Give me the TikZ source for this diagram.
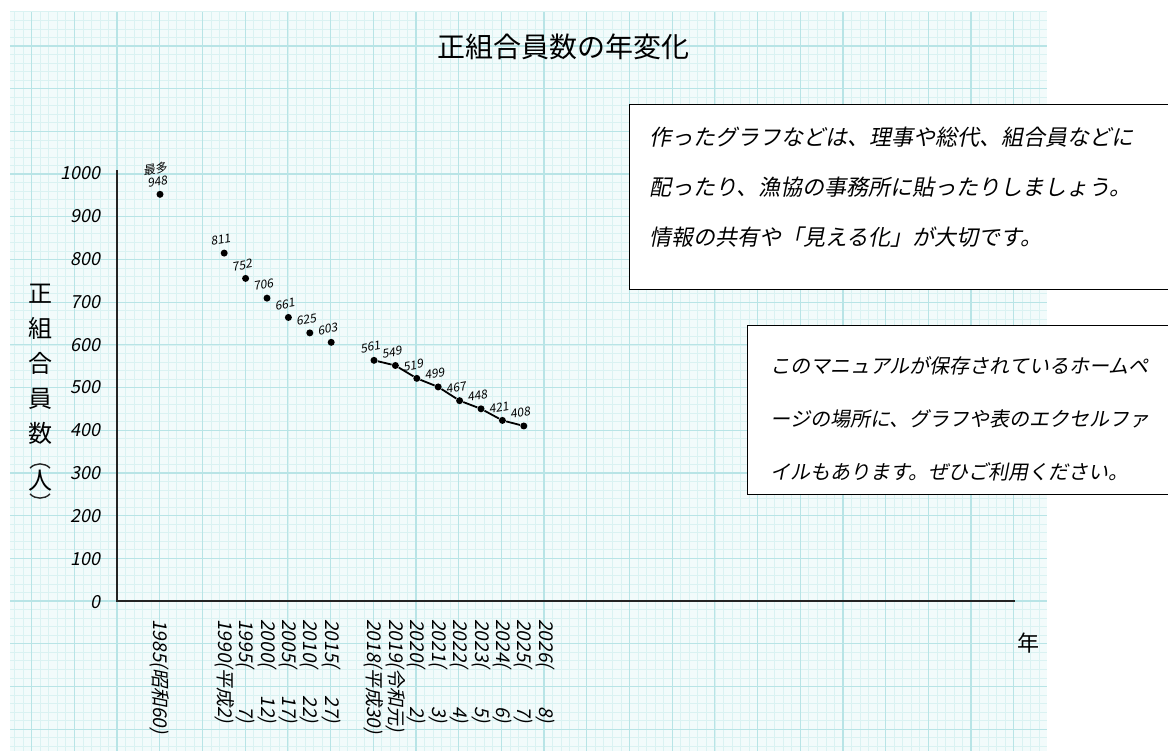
\documentclass[tikz,border=0pt]{standalone}
\usepackage{fontspec}
\newfontfamily\jpfont{Noto Sans CJK JP}
\newfontfamily\jpslant[FakeSlant=0.2]{Noto Sans CJK JP}
\usetikzlibrary{
    positioning
}
\definecolor{paperbg}{RGB}{242,251,251}
\definecolor{gridminor}{RGB}{218,242,242}
\definecolor{gridmajor}{RGB}{184,228,230}
\definecolor{ink}{RGB}{35,35,35}
\newcommand\yrlbl[2]{\setbox0\hbox{0000(平成0)}\hbox to \wd0{#1(\hfill#2)}}
\tikzset{
    minorgrid/.style = {
        draw=gridminor,
        line width=0.3pt
    },
    majorgrid/.style = {
        draw=gridmajor,
        line width=0.6pt
    },
    axisline/.style = {
        draw=ink,
        line width=1pt
    },
    axistitle/.style = {
        font=\jpfont\fontsize{12}{17.5}\selectfont,
        inner sep=0pt
    },
    unitparen/.style = {
        draw=ink,
        line width=0.7pt
    },
    datapoint/.style = {
        circle,
        fill=black,
        inner sep=0pt,
        minimum size=3.5pt
    },
    datalabel/.style = {
        font=\jpslant\fontsize{6}{6.5}\selectfont,
        inner sep=0pt,
        rotate=10
    },
    ticklabel/.style = {
        font=\jpslant\fontsize{9}{9}\selectfont,
        anchor=east,
        inner sep=0pt
    },
    yearlabel/.style = {
        font=\jpslant\fontsize{9.5}{9.5}\selectfont,
        rotate=-90,
        anchor=west,
        inner sep=0pt
    },
    notebox/.style = {
        rectangle,
        draw=black,
        line width=0.6pt,
        fill=white,
        anchor=north west
    },
    notetext/.style = {
        align=left,
        anchor=west,
        inner sep=0pt
    },
    trend/.style = {
        draw=black,
        line width=0.9pt
    }
}

\begin{document}
\begin{tikzpicture}[x=0.5pt, y=-0.5pt]
\useasboundingbox (0,0) rectangle (1168,751);

% graph paper
\fill[paperbg] (10,12) rectangle (1047,751);
\foreach \i in {-12,...,108}
    \draw[minorgrid] ({117+8.54*\i},12) -- ({117+8.54*\i},751);
\foreach \j in {-69,...,17}
    \draw[minorgrid] (10,{601+8.54*\j}) -- (1047,{601+8.54*\j});
\foreach \i in {-2,...,21}
    \draw[majorgrid] ({117+42.7*\i},12) -- ({117+42.7*\i},751);
\foreach \j in {-13,...,3}
    \draw[majorgrid] (10,{601+42.7*\j}) -- (1047,{601+42.7*\j});

% title
\node[font=\jpfont\fontsize{14}{14}\selectfont] (title) at (563,47) {正組合員数の年変化};

% axes
\coordinate (origin) at (117,601);
\coordinate (ytop) at (117,170);
\coordinate (xend) at (1015,601);
\draw[axisline] (ytop) -- (origin) -- (xend);

\foreach \v in {0,100,...,1000}
    \node[ticklabel] (t\v) at (101,{602-0.429*\v}) {\v};

\node[axistitle, align=center, anchor=north] (ylab) at (40,284) {正\\組\\合\\員\\数};
\node[axistitle] (yunit) at (40,481) {人};
\draw[unitparen] ([xshift=-5pt, yshift=1pt]yunit.north) to[bend left=45] ([xshift=5pt, yshift=1pt]yunit.north);
\draw[unitparen] ([xshift=-5pt, yshift=-1pt]yunit.south) to[bend right=45] ([xshift=5pt, yshift=-1pt]yunit.south);
\node[font=\jpfont\fontsize{11}{11}\selectfont] (xlab) at (1028,643) {年};

% data
\node[datapoint] (p1985) at (160,{601-0.429*948}) {};
\node[datalabel, align=center, above=2pt of p1985, xshift=-1pt] (l1985) {最多\\948};
\foreach \k/\v/\n in {3/811/p1990, 4/752/p1995, 5/706/p2000, 6/661/p2005,
    7/625/p2010, 8/603/p2015, 10/561/p2018, 11/549/p2019, 12/519/p2020,
    13/499/p2021, 14/467/p2022, 15/448/p2023, 16/421/p2024, 17/408/p2025}
{
    \node[datapoint] (\n) at ({160+21.4*\k},{601-0.429*\v}) {};
    \node[datalabel, above=2.5pt of \n, xshift=-1.5pt] (l\n) {\v};
}
\draw[trend] (p2018) -- (p2019) -- (p2020) -- (p2021) -- (p2022)
    -- (p2023) -- (p2024) -- (p2025);

% years
\foreach \k/\t in {0/1985(昭和60), 3/1990(平成2), 4/\yrlbl{1995}{7},
    5/\yrlbl{2000}{12}, 6/\yrlbl{2005}{17}, 7/\yrlbl{2010}{22},
    8/\yrlbl{2015}{27}, 10/2018(平成30), 11/2019(令和元),
    12/\yrlbl{2020}{2}, 13/\yrlbl{2021}{3}, 14/\yrlbl{2022}{4},
    15/\yrlbl{2023}{5}, 16/\yrlbl{2024}{6}, 17/\yrlbl{2025}{7},
    18/\yrlbl{2026}{8}}
    \node[yearlabel] (y\k) at ({160+21.4*\k},619) {\t};

% notes
\node[notebox, minimum width=276pt, minimum height=92.5pt] (tipbox) at (629,104) {};
\node[notetext, font=\jpslant\fontsize{11}{25}\selectfont] (tiptext) at (649,187)
    {作ったグラフなどは、理事や総代、組合員などに\\
     配ったり、漁協の事務所に貼ったりしましょう。\\
     情報の共有や「見える化」が大切です。};
\node[notebox, minimum width=216pt, minimum height=84.5pt] (filebox) at (747,325) {};
\node[notetext, font=\jpslant\fontsize{10}{26.5}\selectfont] (filetext) at (770,419)
    {このマニュアルが保存されているホームペ\\
     ージの場所に、グラフや表のエクセルファ\\
     イルもあります。ぜひご利用ください。};
\end{tikzpicture}
\end{document}
